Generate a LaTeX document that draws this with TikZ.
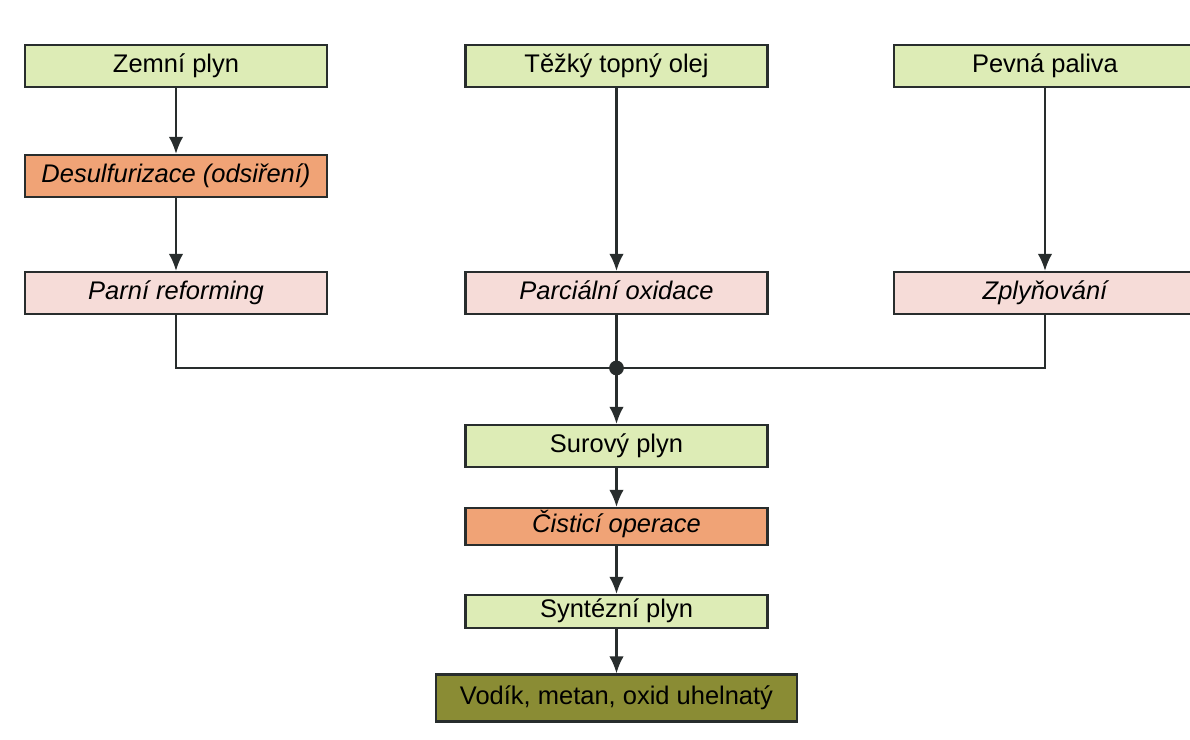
\documentclass[tikz,border=0pt]{standalone}
\usepackage{fontspec}
\setmainfont{Liberation Sans}
\usepackage{xcolor}
\usetikzlibrary{arrows.meta, positioning}

\definecolor{srcgreen}{RGB}{221,236,182}
\definecolor{procorange}{RGB}{240,163,118}
\definecolor{procpink}{RGB}{246,220,216}
\definecolor{prodolive}{RGB}{138,140,52}
\definecolor{boxline}{RGB}{40,45,45}

\begin{document}
\begin{tikzpicture}[
  font=\fontsize{14.5}{16}\selectfont,
  block/.style={draw=boxline, line width=1.3pt, minimum width=6.04cm, minimum height=0.84cm, inner sep=0pt, text height=0.95em, text depth=0.22em, align=center},
  source/.style={block, fill=srcgreen},
  stage/.style={block, fill=procpink, font=\fontsize{14.5}{16}\selectfont\itshape},
  clean/.style={block, fill=procorange, font=\fontsize{14.5}{16}\selectfont\itshape},
  edge/.style={-{Latex[length=3.4mm, width=2.9mm]}, line width=1.2pt, draw=boxline},
  link/.style={line width=1.2pt, draw=boxline}
]
\useasboundingbox (0,0) rectangle (23.8,-14.8);

\node[source] (zemni) at (3.52,-1.32) {Zemní plyn};
\node[source] (tezky) at (12.33,-1.32) {Těžký topný olej};
\node[source] (pevna) at (20.9,-1.32) {Pevná paliva};

\node[clean] (desulf) at (3.52,-3.52) {Desulfurizace (odsiření)};

\node[stage] (parni) at (3.52,-5.86) {Parní reforming};
\node[stage] (parc) at (12.33,-5.86) {Parciální oxidace};
\node[stage] (zply) at (20.9,-5.86) {Zplyňování};

\coordinate (junc) at (12.33,-7.36);

\node[source] (surovy) at (12.33,-8.92) {Surový plyn};
\node[clean, minimum height=0.74cm] (cisti) at (12.33,-10.53) {Čisticí operace};
\node[source, minimum height=0.66cm] (synt) at (12.33,-12.23) {Syntézní plyn};
\node[block, fill=prodolive, minimum width=7.22cm, minimum height=0.94cm] (vodik) at (12.33,-13.96) {Vodík, metan, oxid uhelnatý};

\draw[edge] (zemni) -- (desulf);
\draw[edge] (desulf) -- (parni);
\draw[edge] (tezky) -- (parc);
\draw[edge] (pevna) -- (zply);

\draw[link] (parni.south) |- (junc) -| (zply.south);
\draw[link] (parc.south) -- (junc);
\fill[boxline] (junc) circle (4.2pt);

\draw[edge] (junc) -- (surovy);
\draw[edge] (surovy) -- (cisti);
\draw[edge] (cisti) -- (synt);
\draw[edge] (synt) -- (vodik);
\end{tikzpicture}
\end{document}
